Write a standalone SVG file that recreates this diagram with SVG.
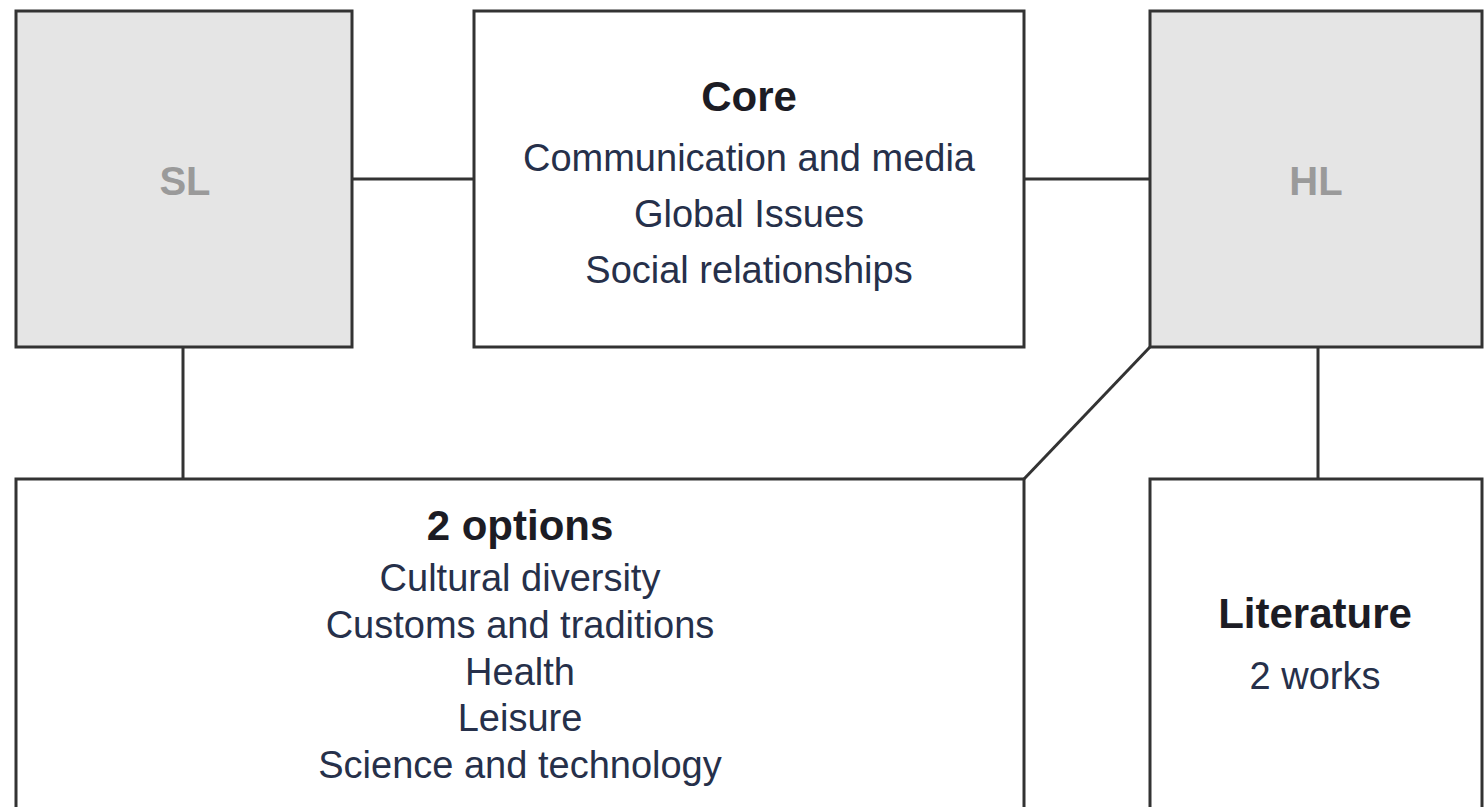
<svg xmlns="http://www.w3.org/2000/svg" width="1484" height="807" viewBox="0 0 1484 807">
  <style>
    .box { stroke: #333; stroke-width: 3; }
    .grey { fill: #e5e5e5; }
    .white { fill: #ffffff; }
    .conn { stroke: #333; stroke-width: 3; fill: none; }
    text { font-family: "Liberation Sans", Arial, sans-serif; text-anchor: middle; }
    .lvl { font-size: 40px; font-weight: bold; fill: #9a9a9a; }
    .head { font-size: 42px; font-weight: bold; fill: #1c1c24; }
    .body { font-size: 38px; fill: #26304a; }
  </style>
  <rect x="0" y="0" width="1484" height="807" fill="#ffffff"/>
  <g id="connectors">
    <line class="conn" x1="352" y1="179" x2="474" y2="179"/>
    <line class="conn" x1="1024" y1="179" x2="1150" y2="179"/>
    <line class="conn" x1="183" y1="347" x2="183" y2="479"/>
    <line class="conn" x1="1318" y1="347" x2="1318" y2="479"/>
    <line class="conn" x1="1150" y1="347" x2="1024" y2="479"/>
  </g>
  <g id="sl">
    <rect class="box grey" x="16" y="11" width="336" height="336"/>
    <text class="lvl" x="185" y="195">SL</text>
  </g>
  <g id="core">
    <rect class="box white" x="474" y="11" width="550" height="336"/>
    <text class="head" x="749" y="111">Core</text>
    <text class="body" x="749" y="171">Communication and media</text>
    <text class="body" x="749" y="227">Global Issues</text>
    <text class="body" x="749" y="283">Social relationships</text>
  </g>
  <g id="hl">
    <rect class="box grey" x="1150" y="11" width="332" height="336"/>
    <text class="lvl" x="1316" y="195">HL</text>
  </g>
  <g id="options">
    <rect class="box white" x="16" y="479" width="1008" height="340"/>
    <text class="head" x="520" y="540">2 options</text>
    <text class="body" x="520" y="591">Cultural diversity</text>
    <text class="body" x="520" y="638">Customs and traditions</text>
    <text class="body" x="520" y="685">Health</text>
    <text class="body" x="520" y="731">Leisure</text>
    <text class="body" x="520" y="778">Science and technology</text>
  </g>
  <g id="literature">
    <rect class="box white" x="1150" y="479" width="332" height="340"/>
    <text class="head" x="1315" y="628">Literature</text>
    <text class="body" x="1315" y="689">2 works</text>
  </g>
</svg>
